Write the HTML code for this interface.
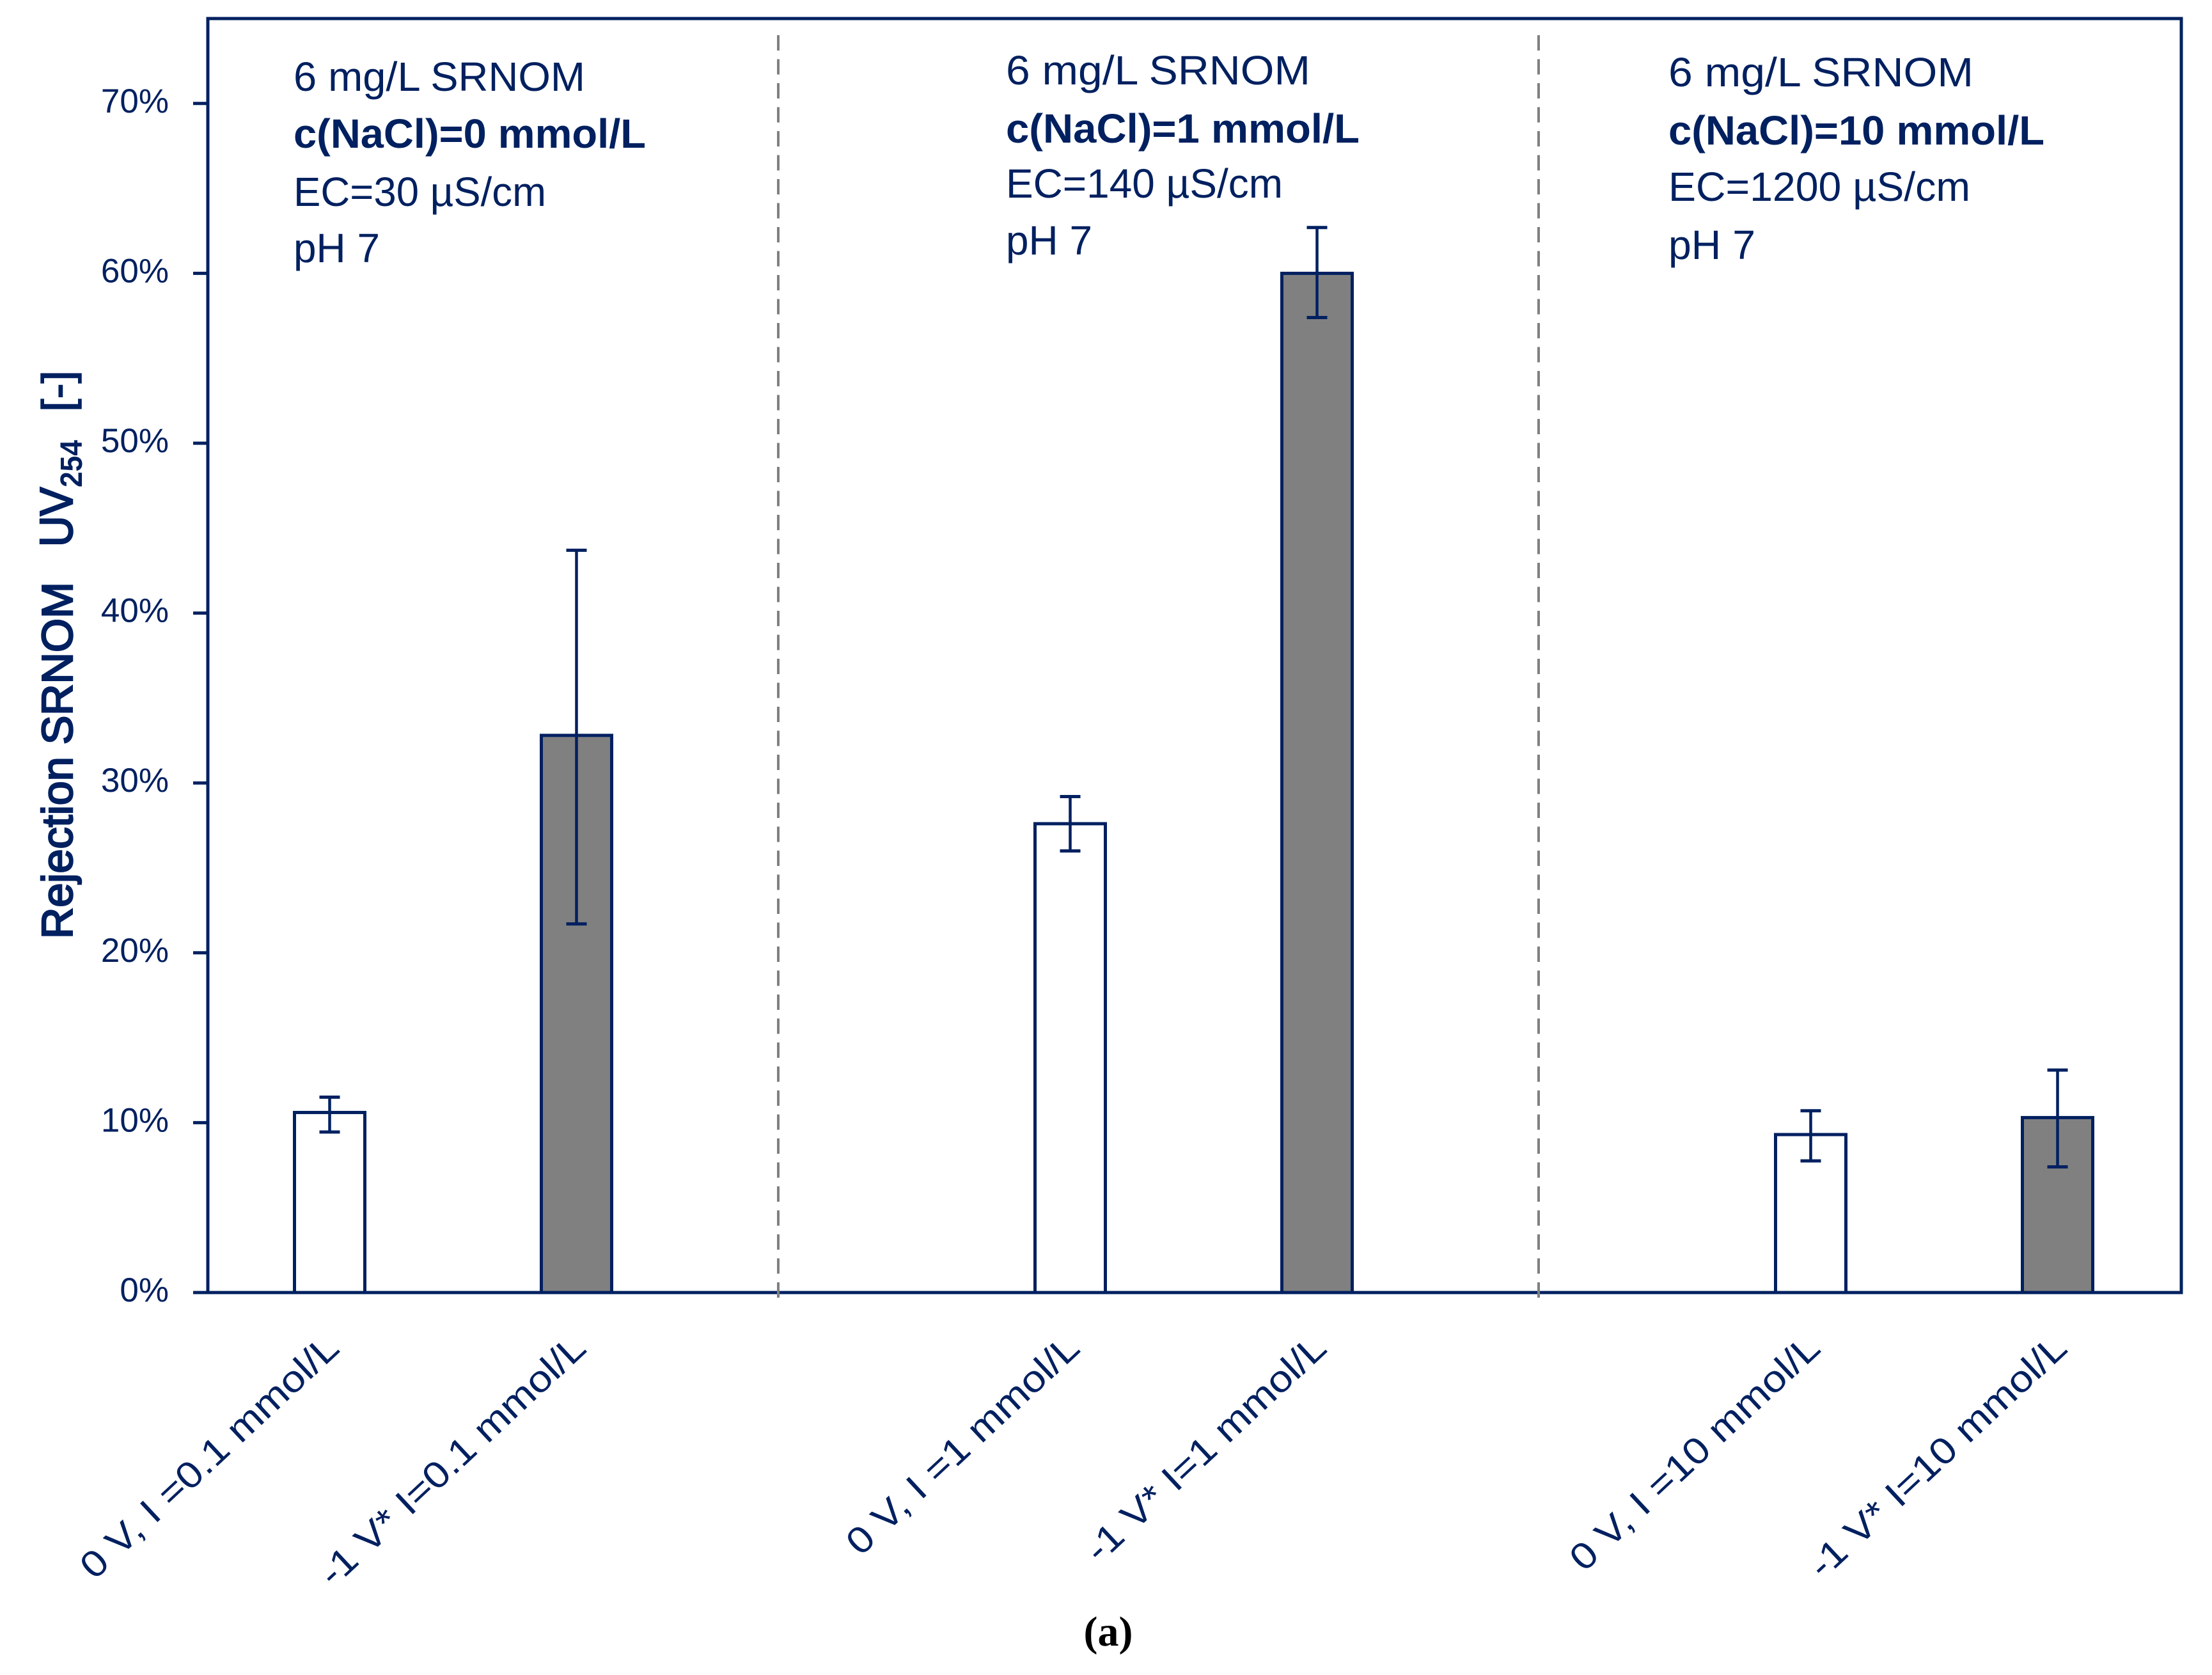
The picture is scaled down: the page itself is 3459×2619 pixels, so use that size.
<!DOCTYPE html>
<html lang="en">
<head>
<meta charset="utf-8">
<title>Rejection SRNOM UV254</title>
<style>
html,body{margin:0;padding:0;background:#fff;}
body{width:3459px;height:2619px;overflow:hidden;}
svg{display:block;}
text{font-family:"Liberation Sans",sans-serif;fill:#002060;}
.an{font-size:64px;}
.anb{font-size:64px;font-weight:700;}
</style>
</head>
<body>
<svg id="chart" xmlns="http://www.w3.org/2000/svg" width="3459" height="2619" viewBox="0 0 3459 2619">
  <rect x="0" y="0" width="3459" height="2619" fill="#ffffff"/>
  <rect x="325" y="29" width="3086" height="1992" fill="none" stroke="#002060" stroke-width="5"/>
  <line x1="1217" y1="55" x2="1217" y2="2039" stroke="#808080" stroke-width="4" stroke-dasharray="24 13.5"/>
  <line x1="2406" y1="55" x2="2406" y2="2039" stroke="#808080" stroke-width="4" stroke-dasharray="24 13.5"/>
  <g id="marks"></g>
  <g id="axes"></g>

  <g>
    <text class="an" x="459" y="142" textLength="456" lengthAdjust="spacingAndGlyphs">6 mg/L SRNOM</text>
    <text class="anb" x="459" y="231" textLength="551" lengthAdjust="spacingAndGlyphs">c(NaCl)=0 mmol/L</text>
    <text class="an" x="459" y="322" textLength="395" lengthAdjust="spacingAndGlyphs">EC=30 µS/cm</text>
    <text class="an" x="459" y="410" textLength="135" lengthAdjust="spacingAndGlyphs">pH 7</text>
  </g>
  <g>
    <text class="an" x="1573" y="132" textLength="476" lengthAdjust="spacingAndGlyphs">6 mg/L SRNOM</text>
    <text class="anb" x="1573" y="223" textLength="553" lengthAdjust="spacingAndGlyphs">c(NaCl)=1 mmol/L</text>
    <text class="an" x="1573" y="309" textLength="433" lengthAdjust="spacingAndGlyphs">EC=140 µS/cm</text>
    <text class="an" x="1573" y="398" textLength="135" lengthAdjust="spacingAndGlyphs">pH 7</text>
  </g>
  <g>
    <text class="an" x="2609" y="135" textLength="477" lengthAdjust="spacingAndGlyphs">6 mg/L SRNOM</text>
    <text class="anb" x="2609" y="226" textLength="588" lengthAdjust="spacingAndGlyphs">c(NaCl)=10 mmol/L</text>
    <text class="an" x="2609" y="314" textLength="472" lengthAdjust="spacingAndGlyphs">EC=1200 µS/cm</text>
    <text class="an" x="2609" y="405" textLength="136" lengthAdjust="spacingAndGlyphs">pH 7</text>
  </g>

  <g transform="translate(113,1468) rotate(-90)">
    <text x="0" y="0" font-size="68" stroke="#002060" stroke-width="2.5" textLength="558" lengthAdjust="spacingAndGlyphs">Rejection SRNOM</text>
    <text x="613" y="0" font-size="72" stroke="#002060" stroke-width="2.5" textLength="93" lengthAdjust="spacingAndGlyphs">UV</text>
    <text x="706" y="15" font-size="48" font-weight="700" textLength="74" lengthAdjust="spacingAndGlyphs">254</text>
    <text x="824" y="0" font-size="68" stroke="#002060" stroke-width="1.5" textLength="65" lengthAdjust="spacingAndGlyphs">[-]</text>
  </g>

  <text x="1733" y="2573" text-anchor="middle" font-size="66" font-weight="700" style="font-family:'Liberation Serif',serif;fill:#000">(a)</text>
</svg>

<script>
const categories = ['0 V, I =0.1 mmol/L', '-1 V* I=0.1 mmol/L', '', '0 V, I =1 mmol/L', '-1 V* I=1 mmol/L', '', '0 V, I =10 mmol/L', '-1 V* I=10 mmol/L'];
const rejection = [10.6, 32.8, null, 27.6, 60.0, null, 9.3, 10.3];
const errorUpper = [11.5, 43.7, null, 29.2, 62.7, null, 10.7, 13.1];
const errorLower = [9.45, 21.7, null, 26.0, 57.4, null, 7.75, 7.4];
const voltageApplied = [false, true, null, false, true, null, false, true];
const yTicks = [0, 10, 20, 30, 40, 50, 60, 70];
const yTickLabels = ['0%', '10%', '20%', '30%', '40%', '50%', '60%', '70%'];

const NS = 'http://www.w3.org/2000/svg';
const NAVY = '#002060';
const marks = document.getElementById('marks');
const axes = document.getElementById('axes');

function xScale(i) { return 515.5 + 386 * i; }
function yScale(v) { return 2021 - v * 26.56; }

function make(tag, attrs, parent) {
  const el = document.createElementNS(NS, tag);
  for (const k in attrs) el.setAttribute(k, attrs[k]);
  parent.appendChild(el);
  return el;
}

yTicks.forEach(function (t, i) {
  const y = yScale(t);
  const tick = make('line', { x1: 302, x2: 325, y1: y, y2: y, stroke: NAVY, 'stroke-width': 5 }, axes);
  
  
  const label = make('text', { x: 264, y: y + 14, 'text-anchor': 'end', 'font-size': 53 }, axes);
  
  
  label.textContent = yTickLabels[i];
});

categories.forEach(function (name, i) {
  if (rejection[i] === null) return;
  const cx = xScale(i);
  const top = yScale(rejection[i]);
  const bar = make('rect', {
    x: cx - 55, y: top, width: 110, height: yScale(0) - top,
    fill: voltageApplied[i] ? '#808080' : '#ffffff',
    stroke: NAVY, 'stroke-width': 5
  }, marks);
  
  

  const yHi = yScale(errorUpper[i]);
  const yLo = yScale(errorLower[i]);
  const stem = make('line', { x1: cx, x2: cx, y1: yHi, y2: yLo, stroke: NAVY, 'stroke-width': 4.5 }, marks);
  
  
  const capHi = make('line', { x1: cx - 16, x2: cx + 16, y1: yHi, y2: yHi, stroke: NAVY, 'stroke-width': 5 }, marks);
  
  
  const capLo = make('line', { x1: cx - 16, x2: cx + 16, y1: yLo, y2: yLo, stroke: NAVY, 'stroke-width': 5 }, marks);
  
  

  const label = make('text', {
    transform: 'translate(' + (cx + 18) + ',2112) rotate(-43) scale(1.13,1)',
    x: 0, y: 0, 'text-anchor': 'end', 'font-size': 58
  }, axes);
  
  
  label.textContent = name;
});
</script>
</body>
</html>
